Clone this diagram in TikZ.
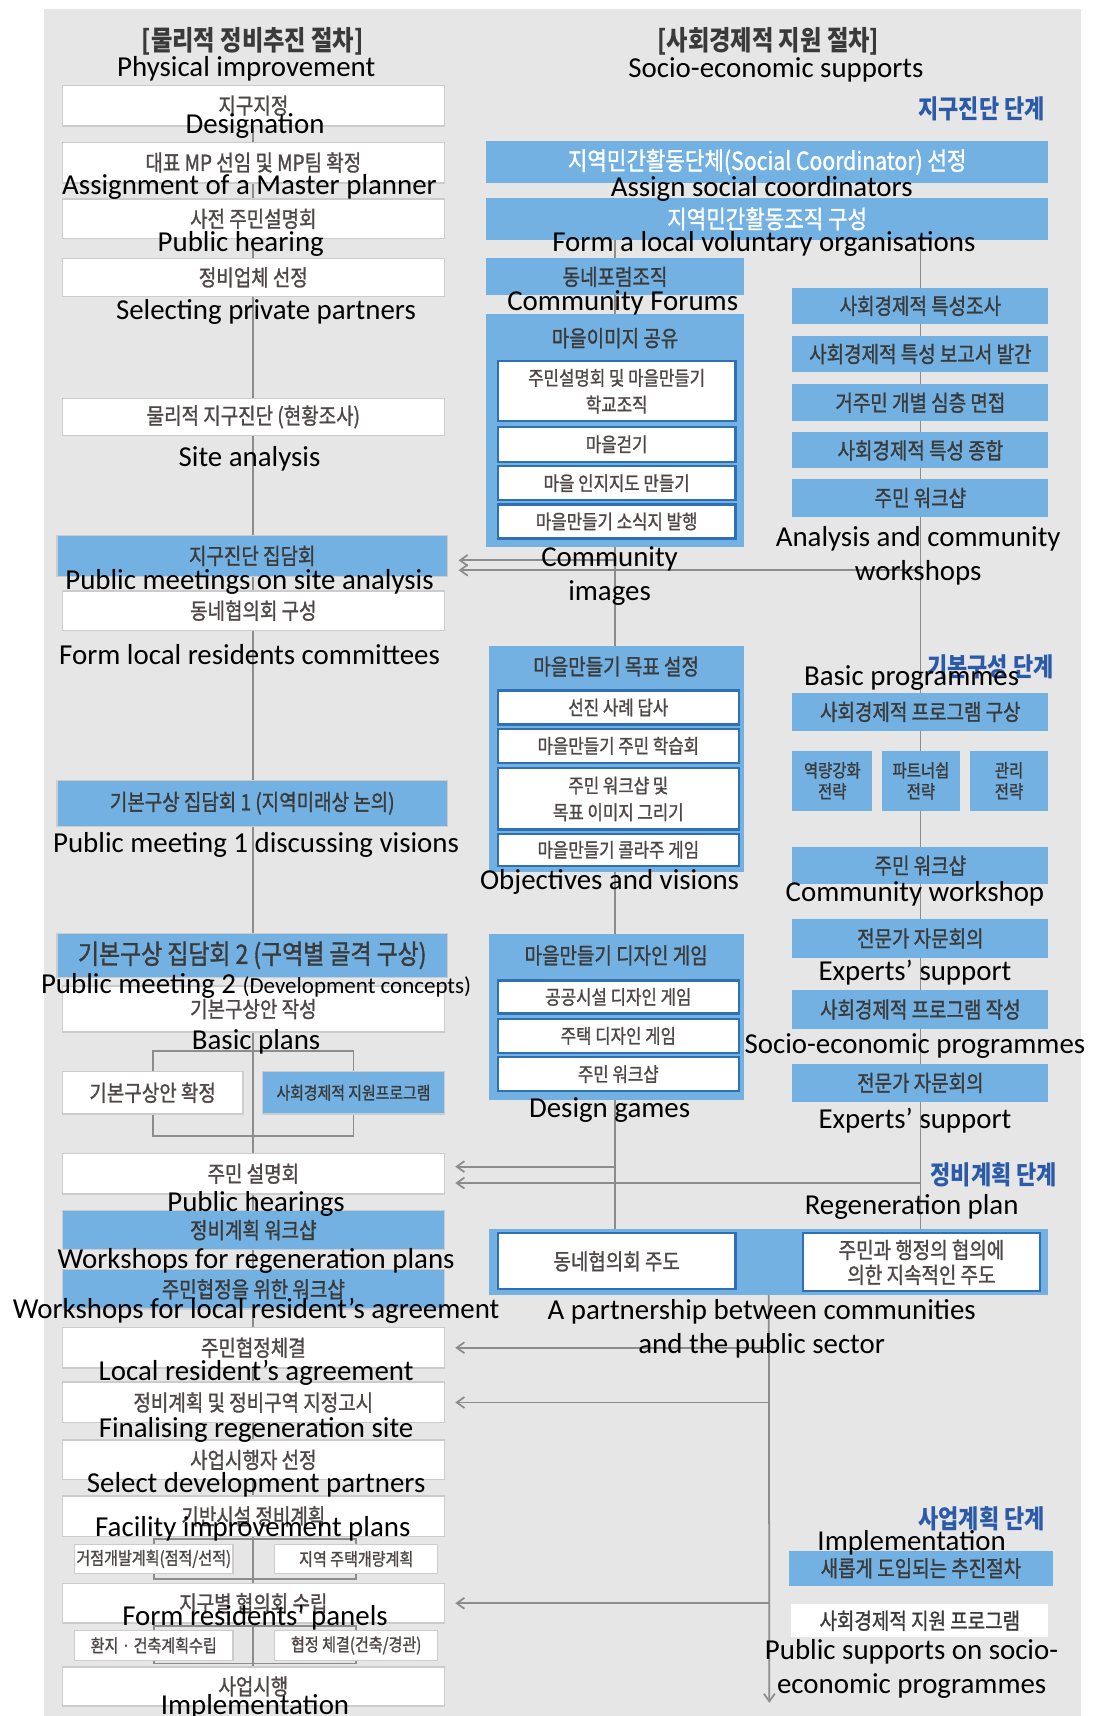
\documentclass[tikz,border=0pt]{standalone}
\usepackage{fontspec}
\setmainfont{Carlito}
\newfontfamily\krfont[FakeStretch=0.85,FakeBold=1.2]{Noto Sans CJK KR}
\newfontfamily\krbold[FakeStretch=0.85]{Noto Sans CJK KR}
\usetikzlibrary{arrows.meta}
\definecolor{bggray}{HTML}{E6E6E6}
\definecolor{myblue}{HTML}{72B1E2}
\definecolor{ibord}{HTML}{2F6FB3}
\definecolor{boxgray}{HTML}{CCCCCC}
\definecolor{linegray}{HTML}{8C8C8C}
\definecolor{krtext}{HTML}{4F4747}
\definecolor{krdark}{HTML}{3A3A3A}
\definecolor{stageblue}{HTML}{2B5BA8}
\pgfdeclarelayer{bg}
\pgfdeclarelayer{lines}
\pgfsetlayers{bg,lines,main}
\newcommand\enlab{\fontsize{13.2}{15.6}\selectfont}
\newcommand\krt{\krfont\fontsize{10.2}{12}\selectfont}
\newcommand\krs{\krfont\fontsize{9}{12.2}\selectfont}
\newcommand\krsub{\krfont\fontsize{8.1}{10}\selectfont}
\newcommand\mybox[7]{%
  \pgfmathsetmacro\bxcx{(#3+#5)/2}%
  \pgfmathsetmacro\bxcy{(#4+#6)/2}%
  \pgfmathsetmacro\bxw{(#5-#3)*0.5}%
  \pgfmathsetmacro\bxh{(#6-#4)*0.5}%
  \node[#2, minimum width=\bxw pt, minimum height=\bxh pt] (#1) at (\bxcx,\bxcy) {#7};}
\tikzset{
  base/.style={inner sep=0pt, outer sep=0pt, align=center, font=\krt},
  wb/.style={base, fill=white, draw=boxgray, line width=0.7pt, text=krtext},
  lb/.style={base, fill=myblue, draw=boxgray, line width=0.6pt, text=krdark},
  rb/.style={base, fill=myblue, text=krdark},
  ib/.style={base, fill=white, draw=ibord, line width=1pt, text=krtext, font=\krs},
  sb/.style={base, fill=white, draw=boxgray, line width=0.6pt, text=krtext, font=\krsub},
  lab/.style={font=\enlab, text=black, inner sep=0pt, align=center},
  ttl/.style={font=\krbold\bfseries\fontsize{12.5}{14}\selectfont, text=krdark, inner sep=0pt},
  stage/.style={font=\krbold\bfseries\fontsize{11.8}{13}\selectfont, text=stageblue, inner sep=0pt},
  conn/.style={draw=linegray, line width=0.8pt},
  arr/.style={conn, -{Straight Barb[length=3.5pt,width=5pt]}, shorten >=5pt},
}
\begin{document}
\begin{tikzpicture}[x=0.5pt,y=-0.5pt]
\useasboundingbox (0,0) rectangle (1000,1568);
\begin{pgfonlayer}{bg}
\fill[white] (0,0) rectangle (1000,1568);
\fill[bggray] (40,8) rectangle (988,1568);
\end{pgfonlayer}

% titles
\node[ttl] (t1) at (231,38) {[물리적 정비추진 절차]};
\node[ttl] (t2) at (702,38) {[사회경제적 지원 절차]};
\node[stage] (s1) at (897,99) {지구진단 단계};
\node[stage] (s2) at (905,609) {기본구성 단계};
\node[stage] (s3) at (908,1073) {정비계획 단계};
\node[stage] (s4) at (897,1388) {사업계획 단계};

% left column
\mybox{L1}{wb}{57}{78}{406}{115}{지구지정}
\mybox{L2}{wb}{57}{130}{406}{167}{대표 MP 선임 및 MP팀 확정}
\mybox{L3}{wb}{57}{182}{406}{218}{사전 주민설명회}
\mybox{L4}{wb}{57}{236}{406}{271}{정비업체 선정}
\mybox{L5}{wb}{57}{364}{406}{398}{물리적 지구진단 (현황조사)}
\mybox{L6}{lb}{52}{489}{409}{527}{지구진단 집담회}
\mybox{L7}{wb}{57}{540}{406}{576}{동네협의회 구성}
\mybox{L8}{lb}{52}{713}{409}{755}{기본구상 집담회 1 (지역미래상 논의)}
\mybox{L9}{lb,font=\krfont\fontsize{12.3}{14}\selectfont}{52}{853}{409}{893}{기본구상 집담회 2 (구역별 골격 구상)}
\mybox{L10}{wb}{57}{901}{406}{943}{기본구상안 작성}
\mybox{L11a}{wb}{57}{979}{222}{1018}{기본구상안 확정}
\mybox{L11b}{lb,font=\krfont\fontsize{8}{10}\selectfont}{240}{979}{406}{1018}{사회경제적 지원프로그램}
\mybox{L12}{wb}{57}{1054}{406}{1091}{주민 설명회}
\mybox{L13}{lb}{57}{1106}{406}{1142}{정비계획 워크샵}
\mybox{L14}{lb}{57}{1160}{406}{1196}{주민협정을 위한 워크샵}
\mybox{L15}{wb}{57}{1213}{406}{1250}{주민협정체결}
\mybox{L16}{wb}{57}{1263}{406}{1300}{정비계획 및 정비구역 지정고시}
\mybox{L17}{wb}{57}{1316}{406}{1352}{사업시행자 선정}
\mybox{L18}{wb}{57}{1367}{406}{1404}{기반시설 정비계획}
\mybox{L19a}{sb}{68}{1411}{213}{1438}{거점개발계획(점적/선적)}
\mybox{L19b}{sb}{251}{1411}{400}{1438}{지역 주택개량계획}
\mybox{L20}{wb}{57}{1447}{406}{1483}{지구별 협의회 수립}
\mybox{L21a}{sb}{68}{1490}{213}{1517}{환지 · 건축계획수립}
\mybox{L21b}{sb}{251}{1490}{400}{1517}{협정 체결(건축/경관)}
\mybox{L22}{wb}{57}{1523}{406}{1559}{사업시행}

% middle column
\mybox{M1}{rb,text=white,font=\krfont\fontsize{11.4}{13}\selectfont}{444}{129}{958}{167}{지역민간활동단체(Social Coordinator) 선정}
\mybox{M2}{rb,text=white,font=\krfont\fontsize{11.4}{13}\selectfont}{444}{181}{958}{219}{지역민간활동조직 구성}
\mybox{M3}{rb}{444}{236}{680}{270}{동네포럼조직}
\mybox{M4}{rb}{444}{287}{680}{500}{}
\node[rb] (M4t) at (562,309) {마을이미지 공유};
\mybox{M4a}{ib}{455}{330}{672}{385}{주민설명회 및 마을만들기\\학교조직}
\mybox{M4b}{ib}{455}{390}{672}{422}{마을걷기}
\mybox{M4c}{ib}{455}{426}{672}{457}{마을 인지지도 만들기}
\mybox{M4d}{ib}{455}{461}{672}{492}{마을만들기 소식지 발행}
\mybox{M5}{rb}{447}{590}{680}{797}{}
\node[rb] (M5t) at (563,609) {마을만들기 목표 설정};
\mybox{M5a}{ib}{455}{631}{675}{662}{선진 사례 답사}
\mybox{M5b}{ib}{455}{666}{675}{697}{마을만들기 주민 학습회}
\mybox{M5c}{ib}{455}{702}{675}{758}{주민 워크샵 및\\목표 이미지 그리기}
\mybox{M5d}{ib}{455}{762}{675}{791}{마을만들기 콜라주 게임}
\mybox{M6}{rb}{447}{853}{680}{1005}{}
\node[rb] (M6t) at (563,873) {마을만들기 디자인 게임};
\mybox{M6a}{ib}{455}{896}{675}{926}{공공시설 디자인 게임}
\mybox{M6b}{ib}{455}{931}{675}{962}{주택 디자인 게임}
\mybox{M6c}{ib}{455}{966}{675}{997}{주민 워크샵}
\mybox{Reg}{rb}{447}{1123}{958}{1183}{}
\mybox{Ra}{ib,font=\krt}{455}{1127}{672}{1178}{동네협의회 주도}
\mybox{Rb}{ib,font=\krfont\fontsize{10.2}{11.4}\selectfont}{734}{1127}{950}{1180}{주민과 행정의 협의에\\의한 지속적인 주도}

% right column
\mybox{R1}{rb}{724}{263}{958}{296}{사회경제적 특성조사}
\mybox{R2}{rb}{724}{307}{958}{340}{사회경제적 특성 보고서 발간}
\mybox{R3}{rb}{724}{351}{958}{385}{거주민 개별 심층 면접}
\mybox{R4}{rb}{724}{395}{958}{428}{사회경제적 특성 종합}
\mybox{R5}{rb}{724}{438}{958}{472}{주민 워크샵}
\mybox{R6}{rb}{724}{633}{958}{668}{사회경제적 프로그램 구상}
\mybox{R7a}{rb,font=\krfont\fontsize{8.3}{9.6}\selectfont}{724}{686}{797}{741}{역량강화\\전략}
\mybox{R7b}{rb,font=\krfont\fontsize{8.3}{9.6}\selectfont}{806}{686}{877}{741}{파트너쉽\\전략}
\mybox{R7c}{rb,font=\krfont\fontsize{8.3}{9.6}\selectfont}{886}{686}{958}{741}{관리\\전략}
\mybox{R8}{rb}{724}{774}{958}{808}{주민 워크샵}
\mybox{R9}{rb}{724}{840}{958}{875}{전문가 자문회의}
\mybox{R10}{rb}{724}{905}{958}{940}{사회경제적 프로그램 작성}
\mybox{R11}{rb}{724}{972}{958}{1007}{전문가 자문회의}
\mybox{R12}{rb}{721}{1417}{962}{1449}{새롭게 도입되는 추진절차}
\mybox{R13}{base,fill=white,text=krdark}{723}{1466}{958}{1496}{사회경제적 지원 프로그램}

% connectors
\coordinate (a1e) at ([yshift=-2pt]L6.east);
\coordinate (a1s) at (a1e -| M3.center);
\coordinate (a2e) at ([yshift=-6.5pt]L6.east);
\coordinate (a2s) at (a2e -| R1.center);
\coordinate (a3e) at ([yshift=3.25pt]L12.east);
\coordinate (a3s) at (a3e -| M3.center);
\coordinate (a4e) at ([yshift=-4.25pt]L12.east);
\coordinate (a4s) at (a4e -| R1.center);
\coordinate (bot) at (703,1556);
\coordinate (a5s) at (L15.east -| bot);
\coordinate (a6s) at (L16.east -| bot);
\coordinate (a7s) at (L20.east -| bot);
\coordinate (m0) at (M2.south -| M3.north);
\coordinate (m1) at (Reg.north -| M3.north);
\coordinate (r0) at (M2.south -| R1.north);
\coordinate (r1) at (Reg.north -| R1.north);
\begin{pgfonlayer}{lines}
\draw[conn] (L1.center) -- (L22.center);
\draw[conn] (L11a.north) -- ++(0,-19) -| (L11b.north);
\draw[conn] (L11a.south) -- ++(0,20) -| (L11b.south);
\draw[conn] (L19a.north) -- ++(0,-5) -| (L19b.north);
\draw[conn] (L19a.south) -- ++(0,5) -| (L19b.south);
\draw[conn] (L21a.north) -- ++(0,-4) -| (L21b.north);
\draw[conn] (L21a.south) -- ++(0,3) -| (L21b.south);
\draw[conn] (m0) -- (m1);
\draw[conn] (r0) -- (r1);
\draw[conn, -{Straight Barb[length=3.5pt,width=5pt]}] (Reg.south) -- (bot);
\draw[arr] (a1s) -- (a1e);
\draw[arr] (a2s) -- (a2e);
\draw[arr] (a3s) -- (a3e);
\draw[arr] (a4s) -- (a4e);
\draw[arr] (a5s) -- (L15.east);
\draw[arr] (a6s) -- (L16.east);
\draw[arr] (a7s) -- (L20.east);
\end{pgfonlayer}

% English labels
\node[lab] (e1) at (225,63) {Physical improvement};
\node[lab] (e2) at (709,64) {Socio-economic supports};
\node[lab] (e3) at (233,115) {Designation};
\node[lab] (e4) at (228,171) {Assignment of a Master planner};
\node[lab] (e5) at (220,223) {Public hearing};
\node[lab] (e6) at (243,285) {Selecting private partners};
\node[lab] (e7) at (228,419) {Site analysis};
\node[lab] (e8) at (228,532) {Public meetings on site analysis};
\node[lab] (e9) at (228,598) {Form local residents committees};
\node[lab] (e10) at (234,772) {Public meeting 1 discussing visions};
\node[lab] (e11) at (234,901) {Public meeting 2 {\fontsize{10.5}{12}\selectfont(Development concepts)}};
\node[lab] (e12) at (234,952) {Basic plans};
\node[lab] (e13) at (234,1100) {Public hearings};
\node[lab] (e14) at (234,1152) {Workshops for regeneration plans};
\node[lab] (e15) at (234,1198) {Workshops for local resident’s agreement};
\node[lab] (e16) at (234,1254) {Local resident’s agreement};
\node[lab] (e17) at (234,1307) {Finalising regeneration site};
\node[lab] (e18) at (234,1357) {Select development partners};
\node[lab] (e19) at (231,1397) {Facility improvement plans};
\node[lab] (e20) at (233,1478) {Form residents’ panels};
\node[lab] (e21) at (233,1560) {Implementation};
\node[lab] (e22) at (696,173) {Assign social coordinators};
\node[lab] (e23) at (698,223) {Form a local voluntary organisations};
\node[lab] (e24) at (569,277) {Community Forums};
\node[lab] (e25) at (557,526) {Community\\images};
\node[lab] (e26) at (839,508) {Analysis and community\\workshops};
\node[lab] (e27) at (833,620) {Basic programmes};
\node[lab] (e28) at (557,806) {Objectives and visions};
\node[lab] (e29) at (836,817) {Community workshop};
\node[lab] (e30) at (836,889) {Experts’ support};
\node[lab] (e31) at (557,1014) {Design games};
\node[lab] (e32) at (836,956) {Socio-economic programmes};
\node[lab] (e33) at (836,1024) {Experts’ support};
\node[lab] (e34) at (833,1103) {Regeneration plan};
\node[lab] (e35) at (696,1214) {A partnership between communities\\and the public sector};
\node[lab] (e36) at (833,1410) {Implementation};
\node[lab] (e37) at (833,1525) {Public supports on socio-\\economic programmes};
\end{tikzpicture}
\end{document}
